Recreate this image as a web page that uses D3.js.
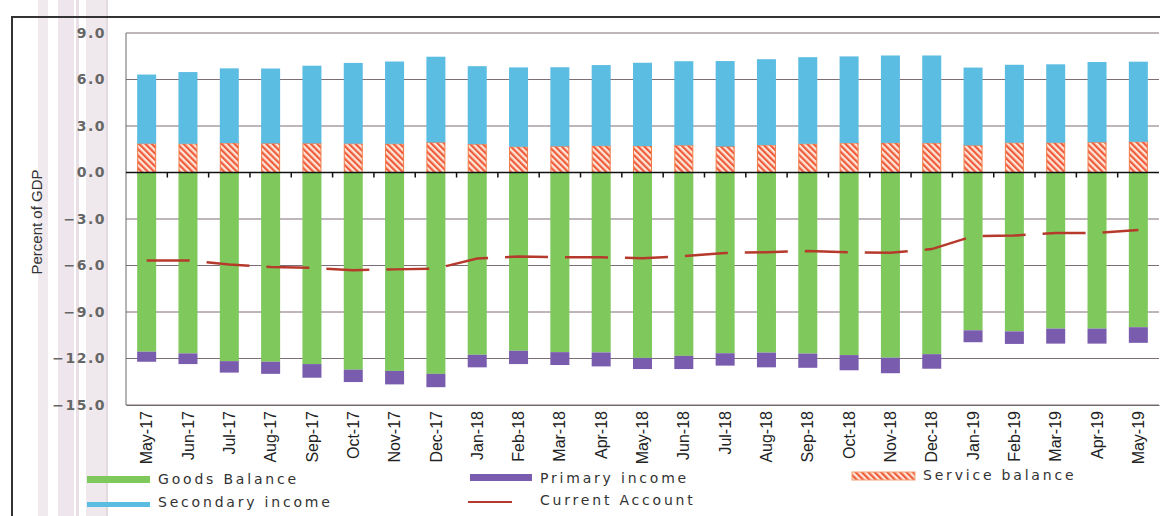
<!DOCTYPE html>
<html>
<head>
<meta charset="utf-8">
<script src="https://cdn.jsdelivr.net/npm/d3@7"></script>
<style>
  body { margin: 0; background: #fff; }
  svg { display: block; }
</style>
</head>
<body>
<div id="chart"></div>
<script>
// Balance of payments components, percent of GDP
var months = ["May-17","Jun-17","Jul-17","Aug-17","Sep-17","Oct-17","Nov-17","Dec-17",
  "Jan-18","Feb-18","Mar-18","Apr-18","May-18","Jun-18","Jul-18","Aug-18","Sep-18","Oct-18","Nov-18","Dec-18",
  "Jan-19","Feb-19","Mar-19","Apr-19","May-19"];
var goods = [-11.56,-11.67,-12.17,-12.21,-12.36,-12.72,-12.80,-12.99,-11.76,-11.50,-11.59,-11.61,-11.96,
  -11.83,-11.66,-11.62,-11.68,-11.78,-11.95,-11.72,-10.18,-10.25,-10.07,-10.07,-9.98];
var primary = [-0.65,-0.69,-0.74,-0.78,-0.88,-0.80,-0.87,-0.86,-0.81,-0.86,-0.83,-0.90,-0.72,
  -0.85,-0.80,-0.95,-0.92,-0.98,-1.00,-0.94,-0.77,-0.81,-0.97,-0.97,-1.01];
var service = [1.86,1.85,1.90,1.88,1.88,1.86,1.85,1.94,1.83,1.66,1.69,1.72,1.71,
  1.76,1.68,1.77,1.85,1.90,1.91,1.90,1.75,1.92,1.92,1.95,1.98];
var secondary = [4.46,4.63,4.82,4.83,5.01,5.21,5.31,5.53,5.03,5.12,5.10,5.21,5.37,
  5.42,5.51,5.54,5.59,5.59,5.64,5.65,5.02,5.03,5.06,5.18,5.17];
var current = [-5.67,-5.67,-5.93,-6.10,-6.15,-6.30,-6.25,-6.20,-5.55,-5.42,-5.47,-5.47,-5.53,
  -5.40,-5.19,-5.14,-5.07,-5.14,-5.18,-4.94,-4.11,-4.07,-3.90,-3.90,-3.71];
var yTicks = [-15,-12,-9,-6,-3,0,3,6,9];

var svgWidth = 1160, svgHeight = 516;
var plot = {left: 126, right: 1159, top: 33, bottom: 405};

var svg = d3.select("#chart").append("svg")
  .attr("width", svgWidth)
  .attr("height", svgHeight);

// hatch for the service balance bars
var defs = svg.append("defs");
var hatch = defs.append("pattern")
  .attr("id", "hatch")
  .attr("patternUnits", "userSpaceOnUse")
  .attr("width", 4.5).attr("height", 4.5)
  .attr("patternTransform", "rotate(-45)");
hatch.append("rect").attr("width", 4.5).attr("height", 4.5).attr("fill", "#fde6d6");
hatch.append("rect").attr("width", 2.2).attr("height", 4.5).attr("fill", "#ef5b3c");

// faint scanner stripes on the left
var stripes = [[38, 10, "#ddd0dc", 0.45], [58, 16, "#dcc8d8", 0.45], [76, 3, "#c8b2c4", 0.4],
  [86, 20, "#dccbd8", 0.45], [106, 2, "#b9a0b0", 0.4]];
svg.append("g").selectAll("rect")
  .data(stripes).enter().append("rect")
  .attr("x", d => d[0]).attr("y", 0)
  .attr("width", d => d[1]).attr("height", svgHeight)
  .attr("fill", d => d[2]).attr("opacity", d => d[3]);

// outer frame
svg.append("path")
  .attr("d", "M12,516V17H1160")
  .attr("fill", "none").attr("stroke", "#333").attr("stroke-width", 2);

var x = d3.scaleBand()
  .domain(months)
  .range([plot.left, plot.right])
  .paddingInner(0.54)
  .paddingOuter(0.27);

var y = d3.scaleLinear()
  .domain([-15, 9])
  .range([plot.bottom, plot.top]);

// gridlines
svg.append("g").selectAll("line")
  .data(yTicks.filter(t => t !== 0))
  .enter().append("line")
  .attr("x1", plot.left).attr("x2", plot.right)
  .attr("y1", d => y(d)).attr("y2", d => y(d))
  .attr("stroke", "#7e6c76").attr("stroke-width", 1);

// left axis line
svg.append("line")
  .attr("x1", plot.left).attr("x2", plot.left)
  .attr("y1", plot.top).attr("y2", plot.bottom)
  .attr("stroke", "#6b6b6b");

var rows = months.map(function(m, i) {
  return {m: m, goods: goods[i], primary: primary[i], service: service[i],
    secondary: secondary[i], current: current[i]};
});

var bw = x.bandwidth();
var bars = svg.append("g");

bars.selectAll(".goods").data(rows).enter().append("rect")
  .attr("x", d => x(d.m)).attr("width", bw)
  .attr("y", y(0)).attr("height", d => y(d.goods) - y(0))
  .attr("fill", "#7ec85c");

bars.selectAll(".primary").data(rows).enter().append("rect")
  .attr("x", d => x(d.m)).attr("width", bw)
  .attr("y", d => y(d.goods)).attr("height", d => y(d.goods + d.primary) - y(d.goods))
  .attr("fill", "#7a5cae");

bars.selectAll(".service").data(rows).enter().append("rect")
  .attr("x", d => x(d.m) + 0.5).attr("width", bw - 1)
  .attr("y", d => y(d.service)).attr("height", d => y(0) - y(d.service))
  .attr("fill", "url(#hatch)")
  .attr("stroke", "#f07a48").attr("stroke-width", 1);

bars.selectAll(".secondary").data(rows).enter().append("rect")
  .attr("x", d => x(d.m)).attr("width", bw)
  .attr("y", d => y(d.service + d.secondary)).attr("height", d => y(d.service) - y(d.service + d.secondary))
  .attr("fill", "#5cbde2");

// zero line with ticks between categories
svg.append("line")
  .attr("x1", plot.left).attr("x2", plot.right)
  .attr("y1", y(0)).attr("y2", y(0))
  .attr("stroke", "#111").attr("stroke-width", 1.5);
svg.append("g").selectAll("line")
  .data(months.slice(1))
  .enter().append("line")
  .attr("x1", d => x(d) - x.step() * x.paddingInner() / 2)
  .attr("x2", d => x(d) - x.step() * x.paddingInner() / 2)
  .attr("y1", y(0)).attr("y2", y(0) + 5)
  .attr("stroke", "#111").attr("stroke-width", 1.5);

// current account
var line = d3.line()
  .x(d => x(d.m) + bw / 2)
  .y(d => y(d.current));
svg.append("path")
  .datum(rows)
  .attr("d", line)
  .attr("fill", "none")
  .attr("stroke", "#b63a2b")
  .attr("stroke-width", 2.5)
  .attr("stroke-dasharray", "43,17");

// y axis labels
var yAxis = svg.append("g")
  .attr("transform", `translate(${plot.left},0)`)
  .call(d3.axisLeft(y).tickValues(yTicks).tickFormat(d3.format(".1f")).tickSize(0).tickPadding(20));
yAxis.select(".domain").remove();
yAxis.selectAll("text")
  .attr("font-family", "DejaVu Sans")
  .attr("font-size", "14px")
  .attr("font-weight", "bold")
  .attr("letter-spacing", "1.5px")
  .attr("fill", "#666");

// x axis labels
var xAxis = svg.append("g")
  .attr("transform", `translate(0,${plot.bottom})`)
  .call(d3.axisBottom(x).tickSize(0));
xAxis.select(".domain")
  .attr("stroke", "#6b6b6b");
xAxis.selectAll("text")
  .attr("transform", "rotate(-90)")
  .attr("text-anchor", "end")
  .attr("x", -6).attr("y", 0).attr("dy", "0.35em")
  .attr("font-family", "Liberation Sans Narrow, Liberation Sans, sans-serif")
  .attr("font-size", "16px")
  .attr("fill", "#222");

svg.append("text")
  .attr("transform", "rotate(-90)")
  .attr("x", -222).attr("y", 42)
  .attr("text-anchor", "middle")
  .attr("font-family", "Liberation Sans Narrow, Liberation Sans, sans-serif")
  .attr("font-size", "15px")
  .attr("fill", "#333")
  .text("Percent of GDP");

// legend
var legendFont = {family: "DejaVu Sans", size: "14px", spacing: "2.8px"};
var leg = svg.append("g");
function legText(tx, ty, label) {
  leg.append("text").attr("x", tx).attr("y", ty).attr("dy", "0.35em")
    .attr("font-family", legendFont.family).attr("font-size", legendFont.size)
    .attr("letter-spacing", legendFont.spacing)
    .attr("fill", "#333").text(label);
}
leg.append("rect").attr("x", 87).attr("y", 476).attr("width", 63).attr("height", 7).attr("fill", "#7ec85c");
legText(158, 479, "Goods Balance");
leg.append("rect").attr("x", 87).attr("y", 502).attr("width", 63).attr("height", 5).attr("fill", "#5cbde2");
legText(158, 502, "Secondary income");
leg.append("rect").attr("x", 470).attr("y", 474).attr("width", 62).attr("height", 7).attr("fill", "#7a5cae");
legText(540, 478, "Primary income");
leg.append("line").attr("x1", 468).attr("x2", 512).attr("y1", 502).attr("y2", 502)
  .attr("stroke", "#b63a2b").attr("stroke-width", 2);
legText(540, 500, "Current Account");
leg.append("rect").attr("x", 852).attr("y", 472).attr("width", 63).attr("height", 8)
  .attr("fill", "url(#hatch)").attr("stroke", "#f4a070").attr("stroke-width", 1);
legText(923, 475, "Service balance");
</script>
</body>
</html>
